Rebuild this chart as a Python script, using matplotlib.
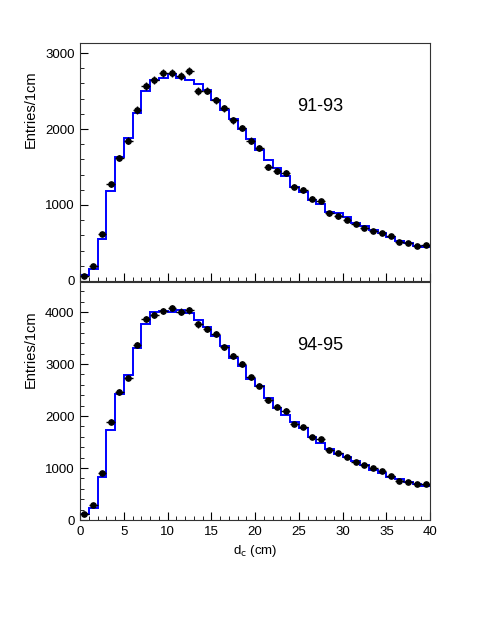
import numpy as np
import matplotlib
matplotlib.use('Agg')
import matplotlib.pyplot as plt
from matplotlib.ticker import MultipleLocator

plt.rcParams['font.family'] = ['Liberation Sans', 'DejaVu Sans']

# bin edges in cm (1 cm bins from 0 to 40)
edges = np.arange(0, 41)
centers = edges[:-1] + 0.5

# 91-93 sample
data_9193 = [70, 193, 618, 1272, 1618, 1846, 2250, 2570, 2645, 2741,
             2733, 2697, 2767, 2500, 2505, 2378, 2272, 2118, 2013, 1846,
             1754, 1504, 1447, 1417, 1241, 1197, 1079, 1053, 891, 851,
             803, 755, 697, 658, 636, 592, 517, 504, 465, 470]
mc_9193 = [75, 162, 549, 1188, 1636, 1886, 2215, 2500, 2645, 2675,
           2720, 2675, 2645, 2588, 2513, 2382, 2250, 2127, 1996, 1864,
           1724, 1592, 1483, 1382, 1233, 1175, 1066, 1013, 912, 891,
           843, 765, 724, 671, 628, 583, 530, 504, 461, 451]

# 94-95 sample
data_9495 = [110, 282, 897, 1891, 2462, 2737, 3359, 3865, 3942, 4019,
             4077, 4006, 4032, 3763, 3673, 3577, 3321, 3154, 3000, 2744,
             2583, 2308, 2179, 2103, 1846, 1795, 1603, 1558, 1346, 1295,
             1210, 1112, 1058, 994, 942, 853, 750, 737, 699, 692]
mc_9495 = [110, 237, 821, 1737, 2417, 2795, 3301, 3769, 4000, 4019,
           3994, 4038, 3974, 3846, 3718, 3545, 3352, 3121, 2962, 2712,
           2577, 2340, 2147, 2019, 1878, 1763, 1603, 1474, 1365, 1269,
           1220, 1140, 1058, 962, 910, 833, 782, 737, 692, 660]

panels = [
    (data_9193, mc_9193, '91-93', 3132, 2290),
    (data_9495, mc_9495, '94-95', 4577, 3365),
]

fig = plt.figure(figsize=(4.91, 6.35), dpi=100)
ax_top = fig.add_axes([0.163, 0.5575, 0.713, 0.3748])
ax_bot = fig.add_axes([0.163, 0.181, 0.713, 0.3748], sharex=ax_top)

for ax, (data, mc, label, ymax, ylab) in zip([ax_top, ax_bot], panels):
    ax.stairs(mc, edges, color='#0000ff', lw=1.4, baseline=None, zorder=2)
    ax.errorbar(centers, data, xerr=0.5, yerr=np.sqrt(data), fmt='o',
                color='black', ms=3.8, elinewidth=1.0, capsize=0, zorder=3)
    ax.set_xlim(0, 40)
    ax.set_ylim(0, ymax)
    ax.yaxis.set_major_locator(MultipleLocator(1000))
    ax.yaxis.set_minor_locator(MultipleLocator(200))
    ax.xaxis.set_major_locator(MultipleLocator(5))
    ax.xaxis.set_minor_locator(MultipleLocator(1))
    ax.tick_params(which='both', direction='in', top=False, right=False,
                   labelsize=9.5, pad=4)
    ax.tick_params(which='major', length=6)
    ax.tick_params(which='minor', length=3)
    for s in ax.spines.values():
        s.set_linewidth(0.8)
        s.set_color('#333333')
    ax.text(27.4, ylab, label, fontsize=13, ha='center', va='center')
    ax.set_ylabel('Entries/1cm', fontsize=10.5)
    ax.yaxis.set_label_coords(-0.12, 0.72)

ax_top.tick_params(labelbottom=False)
ax_bot.set_xlabel(r'd$_{\rm c}$ (cm)', fontsize=9.5)

plt.savefig('out.png', dpi=100)
